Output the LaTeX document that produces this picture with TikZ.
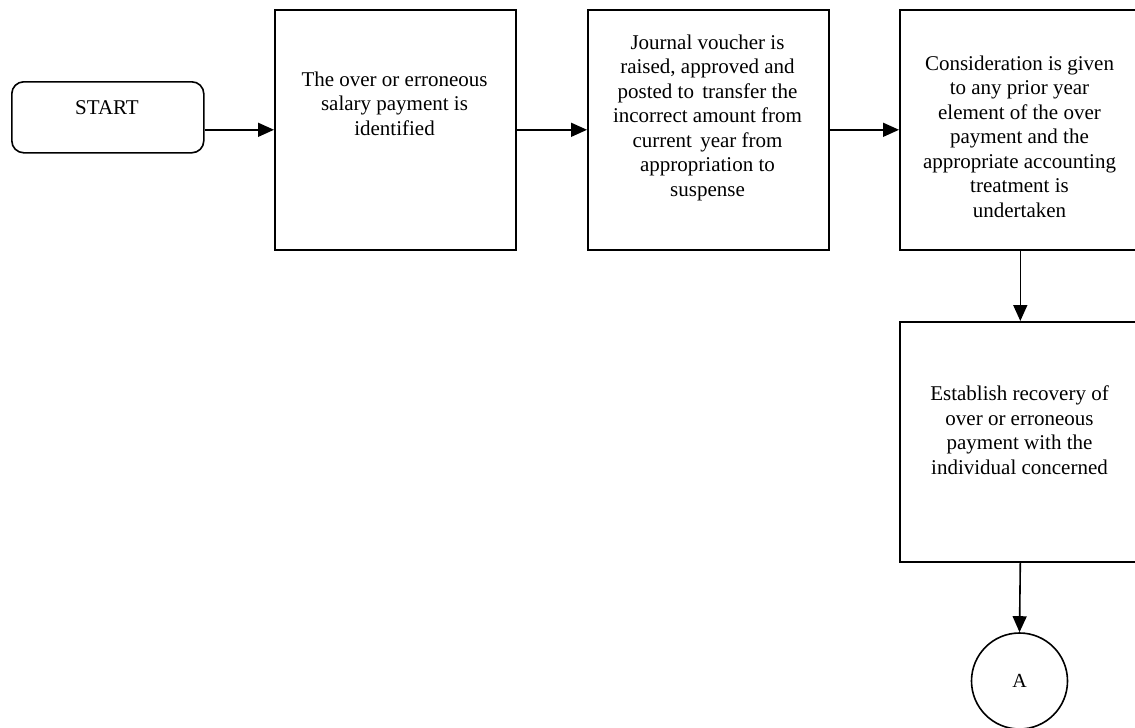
\documentclass[tikz,border=0pt]{standalone}
\usepackage{fontspec}
\setmainfont{Liberation Serif}
\usetikzlibrary{arrows.meta}
\begin{document}
\begin{tikzpicture}[x=1pt,y=-1pt,
  line width=1.6pt,
  flowbox/.style={draw, minimum width=241pt, minimum height=240pt, inner sep=0pt, anchor=north west},
  startbox/.style={draw, rounded corners=12pt, minimum width=192pt, minimum height=71pt, inner sep=0pt, anchor=north west},
  connector/.style={draw, circle, minimum size=96pt, inner sep=0pt, font=\fontsize{20}{24}\selectfont},
  boxtext/.style={anchor=north, align=center, inner sep=0pt, font=\fontsize{21}{24.5}\selectfont},
  flow/.style={-{Triangle[length=16pt,width=14pt]}, line width=1.6pt},
]
\useasboundingbox (0,0) rectangle (1135,728);

% process boxes
\node[startbox] (start) at (11,81) {};
\node[flowbox] (b1) at (274,9) {};
\node[flowbox] (b2) at (587,9) {};
\node[flowbox] (b3) at (899,9) {};
\node[flowbox] (b4) at (899,321) {};
\node[connector] (a) at (1019.5,681) {A};

% box texts
\node[boxtext] (tstart) at (107,100) {START};
\node[boxtext] (t1) at (394.5,71) {The over or erroneous\\salary payment is\\identified};
\node[boxtext] (t2) at (707.5,34) {Journal voucher is\\raised, approved and\\posted to\hspace{3pt} transfer the\\incorrect amount from\\current\hspace{3pt} year from\\appropriation to\\suspense};
\node[boxtext] (t3) at (1019.5,55) {Consideration is given\\to any prior year\\element of the over\\payment and the\\appropriate accounting\\treatment is\\undertaken};
\node[boxtext] (t4) at (1019.5,385) {Establish recovery of\\over or erroneous\\payment with the\\individual concerned};

% connectors
\draw[flow] (start.east |- b1.west) -- (b1.west);
\draw[flow] (b1.east) -- (b2.west);
\draw[flow] (b2.east) -- (b3.west);
\draw[flow] (b3.south) -- (b4.north);
\draw[flow] (b4.south) -- (a.north);
\end{tikzpicture}
\end{document}
